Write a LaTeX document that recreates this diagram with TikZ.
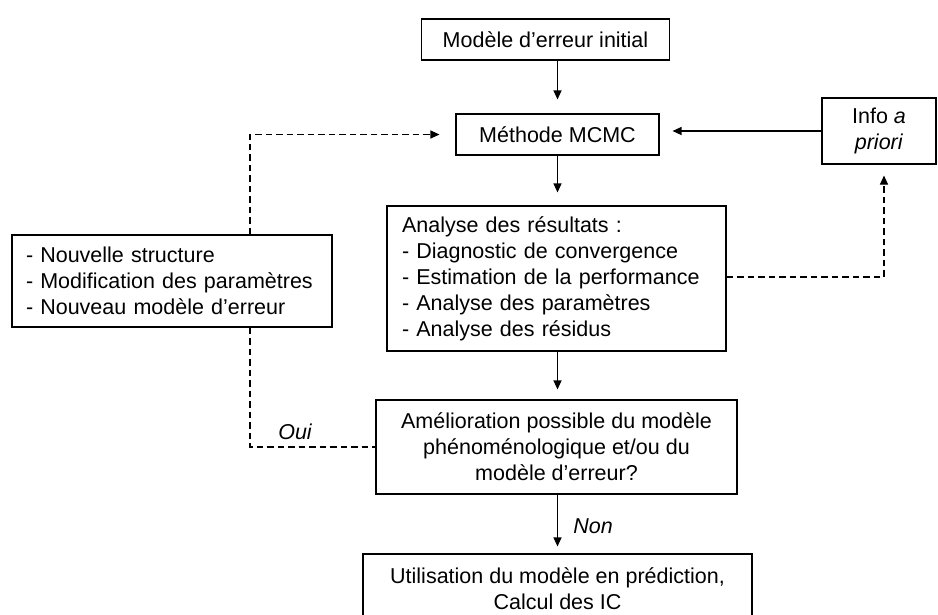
\documentclass[tikz,border=0pt]{standalone}
\usepackage{fontspec}
\setmainfont{Liberation Sans}
\usetikzlibrary{arrows.meta,calc}
\begin{document}
\begin{tikzpicture}[x=1pt,y=-1pt,
  box/.style={draw,line width=1.1pt,inner sep=0pt,font=\fontsize{21.5}{26}\selectfont,align=center},
  arr/.style={line width=1.2pt,-{Triangle[length=9pt,width=8pt]}},
  darr/.style={line width=1.1pt,dash pattern=on 6.5pt off 4pt,-{Triangle[length=9pt,width=8pt]}},
  dline/.style={line width=1.1pt,dash pattern=on 6.5pt off 4pt},
  lbl/.style={font=\fontsize{21.5}{26}\selectfont\itshape,inner sep=0pt}]
\useasboundingbox (0,0) rectangle (938,614);
\node[box,minimum width=248pt,minimum height=41pt] (b1) at (545.5,39.5) {Modèle d’erreur initial};
\node[box,minimum width=203pt,minimum height=41pt] (b2) at (557.5,134.5) {Méthode MCMC};
\node[box,minimum width=339pt,minimum height=145pt,text width=309pt,align=left,inner xsep=15pt] (b3) at (556.5,278.5)
  {Analyse des résultats :\\- Diagnostic de convergence\\- Estimation de la performance\\- Analyse des paramètres\\- Analyse des résidus};
\node[box,minimum width=320pt,minimum height=92pt,text width=292pt,align=left,inner xsep=14pt] (lb) at (172,281)
  {- Nouvelle structure\\- Modification des paramètres\\- Nouveau modèle d’erreur};
\node[box,minimum width=114pt,minimum height=66pt] (info) at (879,131) {Info \textit{a}\\\textit{priori}};
\node[box,minimum width=361pt,minimum height=94pt] (b4) at (556.5,447)
  {Amélioration possible du modèle\\phénoménologique et/ou du\\modèle d’erreur?};
\node[box,minimum width=389pt,minimum height=70pt] (b5) at (557.5,589)
  {Utilisation du modèle en prédiction,\\Calcul des IC};
\coordinate (lu) at (250,134.5);
\coordinate (ru) at (884,277);
% solid arrows
\draw[arr,shorten >=14pt] (b2 |- b1.south) -- (b2.north);
\draw[arr,shorten >=13pt] (b2.south) -- (b2.south |- b3.north);
\draw[arr,shorten >=10pt] (b2.south |- b3.south) -- (b2.south |- b4.north);
\draw[arr,shorten >=7pt] (b2.south |- b4.south) -- (b2.south |- b5.north);
\draw[arr,shorten >=13pt] (info.west) -- (info.west -| b2.east);
% dashed
\draw[darr,shorten >=11pt] (b3.east |- ru) -- (ru) -- (ru |- info.south);
\draw[darr,shorten >=16pt] (lu |- lb.north) -- (lu) -- (b2.west);
\draw[dline] (lu |- lb.south) -- (lu |- b4.west) -- (b4.west);
% labels
\node[lbl] (oui) at (295,432) {Oui};
\node[lbl] (non) at (593,526) {Non};
\end{tikzpicture}
\end{document}
